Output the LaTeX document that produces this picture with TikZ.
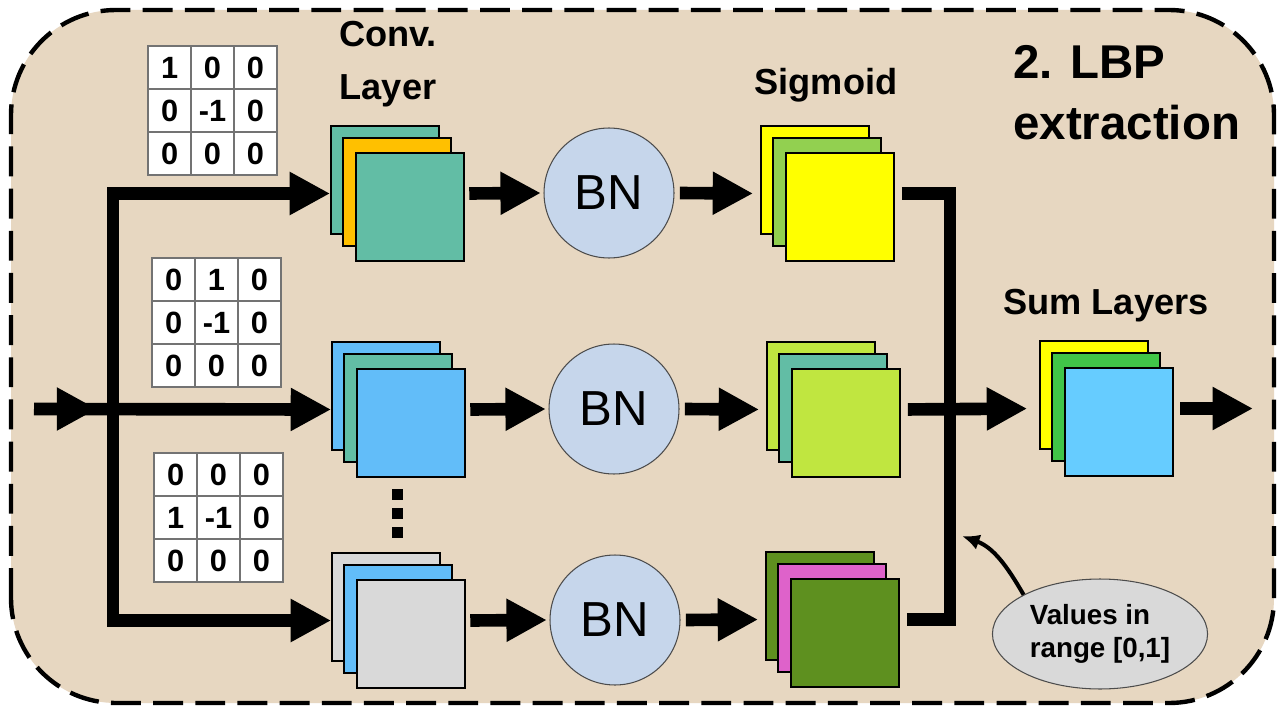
\documentclass[tikz,border=0pt]{standalone}
\usepackage{fontspec}
\setmainfont{Liberation Sans}
\usetikzlibrary{arrows.meta,fit,matrix,shapes.geometric}

\definecolor{bgtan}{HTML}{E7D7C1}
\definecolor{bnblue}{HTML}{C6D6EB}
\definecolor{teal}{HTML}{62BDA5}
\definecolor{amber}{HTML}{FFC000}
\definecolor{skyb}{HTML}{62BDF9}
\definecolor{lgray}{HTML}{D9D9D9}
\definecolor{yel}{HTML}{FFFF00}
\definecolor{lime}{HTML}{92D050}
\definecolor{ygreen}{HTML}{C0E640}
\definecolor{dgreen}{HTML}{5E901F}
\definecolor{pink}{HTML}{DE62CA}
\definecolor{green}{HTML}{41C548}
\definecolor{sblue}{HTML}{66CCFF}

\newcommand{\layerstack}[5]{%
  \node[sheet, fill=#3] (#1a) at #2 {};
  \node[sheet, fill=#4] (#1b) at ([shift={(12,-12)}]#1a) {};
  \node[sheet, fill=#5] (#1c) at ([shift={(25,-27)}]#1a) {};
  \node[fit=(#1a)(#1c), inner sep=0pt] (#1) {};
}

\begin{document}
\begin{tikzpicture}[x=0.02cm, y=0.02cm,
    sheet/.style={draw=black, line width=0.6pt, minimum size=2.16cm, inner sep=0pt},
    bn/.style={circle, draw=black!70, line width=0.6pt, fill=bnblue, minimum size=2.6cm, font=\fontsize{28}{30}\selectfont},
    cell/.style={draw=black!55, line width=0.8pt, fill=white, minimum size=0.86cm, inner sep=0pt, font=\bfseries\fontsize{17.5}{20}\selectfont},
    kernel/.style={matrix of nodes, nodes={cell}, column sep=-0.8pt, row sep=-0.8pt, inner sep=0pt, anchor=north west},
    headtext/.style={font=\bfseries\fontsize{20.6}{30}\selectfont, align=center},
    fat/.style={line width=7.2pt},
    fatarrow/.style={fat, -{Triangle[length=23pt,width=23pt]}}]
  \path[use as bounding box, fill=white] (0,0) rectangle (1288,718);
  \draw[fill=bgtan, line width=2.5pt, dash pattern=on 17pt off 7pt, rounded corners=2.1cm] (11,15) rectangle (1274,708);

  \matrix (k1) [kernel] at (147,673) {1 & 0 & 0\\ 0 & -1 & 0\\ 0 & 0 & 0\\};
  \matrix (k2) [kernel] at (151,461) {0 & 1 & 0\\ 0 & -1 & 0\\ 0 & 0 & 0\\};
  \matrix (k3) [kernel] at (153,266) {0 & 0 & 0\\ 1 & -1 & 0\\ 0 & 0 & 0\\};

  \layerstack{conv1}{(385,538)}{teal}{amber}{teal}
  \layerstack{conv2}{(386,322)}{skyb}{teal}{skyb}
  \layerstack{conv3}{(386,111)}{lgray}{skyb}{lgray}
  \layerstack{sig1}{(815,538)}{yel}{lime}{yel}
  \layerstack{sig2}{(821,322)}{ygreen}{teal}{ygreen}
  \layerstack{sig3}{(820,112)}{dgreen}{pink}{dgreen}
  \layerstack{sum}{(1094,323)}{yel}{green}{sblue}

  \node[bn] (bn1) at (609,525) {BN};
  \node[bn] (bn2) at (614,309) {BN};
  \node[bn] (bn3) at (615,98) {BN};

  \node[headtext] (convlbl) at (388,654) {Conv.\\Layer};
  \node[headtext, anchor=base] (siglbl) at (826,623) {Sigmoid};
  \node[headtext, anchor=base] (sumlbl) at (1106,404) {Sum Layers};
  \node[anchor=north west, align=left, inner sep=0pt, font=\bfseries\fontsize{27}{34.6}\selectfont] (title) at (1013,673) {2. LBP\\extraction};

  \foreach \y in {224,205,186}
    \fill (391.5,\y-5.5) rectangle ++(11,11);

  \coordinate (in) at (34,309);
  \coordinate (split) at (113,309);
  \coordinate (join) at (950,309);
  \coordinate (out) at (1253,309.5);

  \draw[fatarrow] (in) -- (conv2.west);
  \draw[fatarrow, shorten >=9pt] (in) -- (split);
  \draw[fatarrow] (split) |- (conv1.west);
  \draw[fatarrow] (split) |- (conv3.west);

  \foreach \i in {1,2,3} {
    \draw[fatarrow, shorten <=2.5pt, shorten >=1.5pt] (conv\i.east) -- (bn\i.west);
    \draw[fatarrow, shorten <=3pt, shorten >=4pt] (bn\i.east) -- (sig\i.west);
  }

  \draw[fat, shorten <=4pt] (sig1.east) -| (join);
  \draw[fat, shorten <=4pt] (sig3.east) -| (join);
  \draw[fatarrow, shorten <=4pt, shorten >=6.8pt] (sig2.east) -- (sum.west);
  \draw[fatarrow, shorten <=3.5pt] (sum.east) -- (out);

  \node[ellipse, draw=black!70, line width=0.6pt, fill=lgray, minimum width=4.28cm, minimum height=2.2cm, align=left, font=\bfseries\fontsize{15.8}{18.7}\selectfont] (range) at (1100,84) {Values in\\range [0,1]};
  \coordinate (barpt) at (962,182);
  \draw[line width=2.3pt, -{Latex[length=10pt,width=9pt]}] (range.north west) to[out=120, in=-20] (barpt);
\end{tikzpicture}
\end{document}
